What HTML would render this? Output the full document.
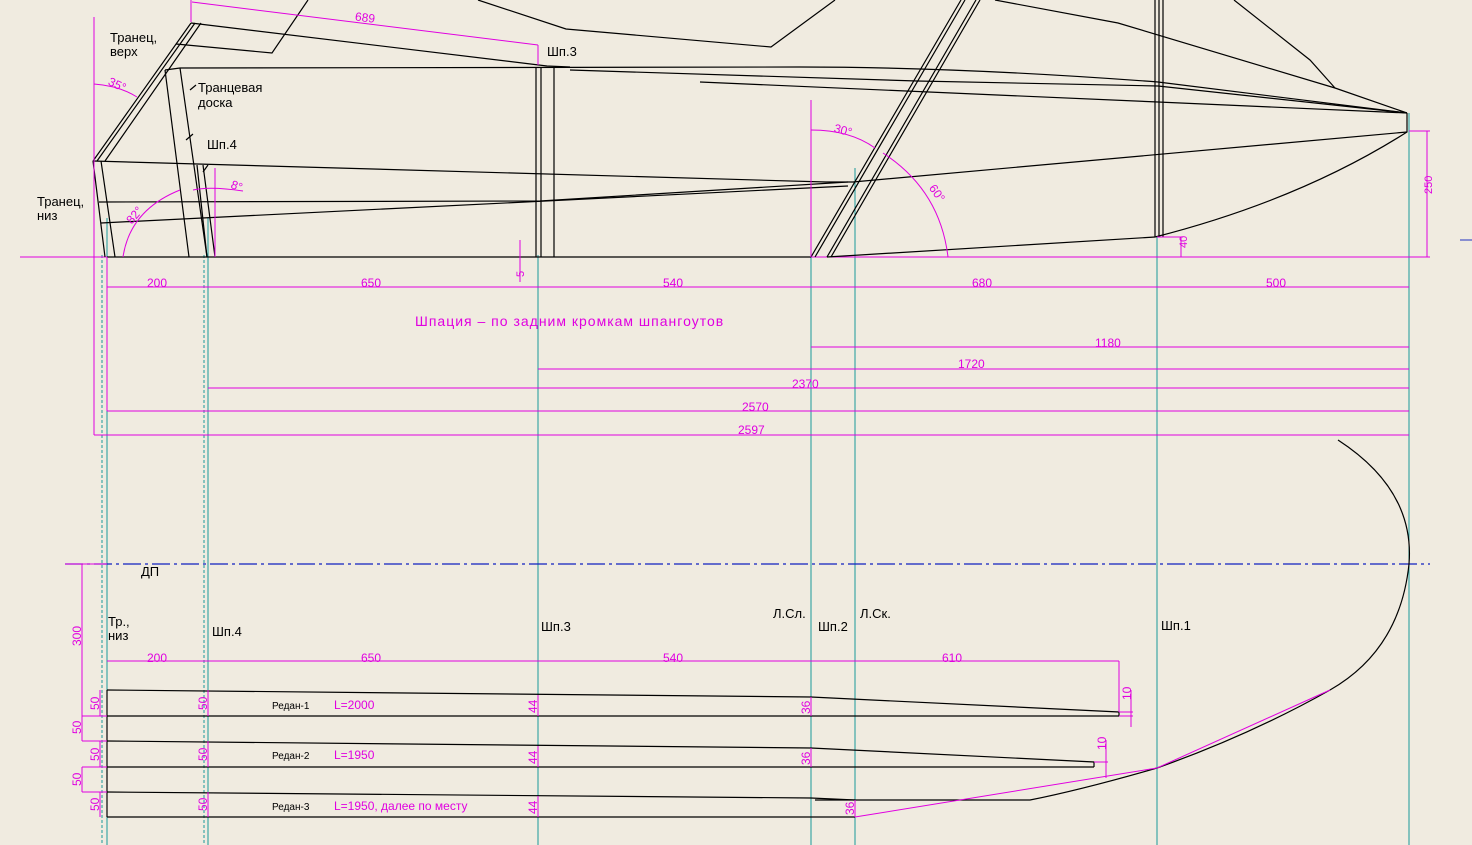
<!DOCTYPE html>
<html><head><meta charset="utf-8"><style>
html,body{margin:0;padding:0;background:#f0ebe0;}
svg{display:block;font-family:"Liberation Sans","DejaVu Sans",sans-serif;}
.k{stroke:#000;stroke-width:1.2;fill:none}
.m{stroke:#e000e0;stroke-width:1;fill:none}
.c{stroke:#1a9a9a;stroke-width:1;fill:none}
.cd{stroke:#1a9a9a;stroke-width:1;fill:none;stroke-dasharray:3,2}
.mt{fill:#e000e0;font-size:12px}
.bt{fill:#000;font-size:13px}
.st{fill:#000;font-size:10px}
</style></head><body>
<svg width="1472" height="845" viewBox="0 0 1472 845" xmlns="http://www.w3.org/2000/svg">
<rect width="1472" height="845" fill="#f0ebe0"/>
<!-- cyan stations -->
<g>
<line class="cd" x1="102" y1="255" x2="102" y2="845"/>
<line class="c" x1="107" y1="218" x2="107" y2="845"/>
<line class="cd" x1="204" y1="255" x2="204" y2="845"/>
<line class="c" x1="208" y1="218" x2="208" y2="845"/>
<line class="c" x1="538" y1="255" x2="538" y2="845"/>
<line class="c" x1="811" y1="255" x2="811" y2="845"/>
<line class="c" x1="855" y1="168" x2="855" y2="845"/>
<line class="c" x1="1157" y1="237" x2="1157" y2="845"/>
<line class="c" x1="1409" y1="113" x2="1409" y2="845"/>
</g>
<!-- baseline -->
<line class="m" x1="20" y1="257" x2="1430" y2="257"/>
<line stroke="#2030c0" x1="1460" y1="240" x2="1472" y2="240"/>
<!-- side view black -->
<g class="k">
<path d="M107,257 L811,257"/>
<path d="M827,257 L1155,237"/>
<path d="M1155,237 Q1300,200 1407,132 L1407,113"/>
<!-- transom -->
<path d="M93,161 L105,257 M101,161 L115,257"/>
<path d="M93,161 L191,23 M97,161 L195,23 M105,161 L201,23"/>
<path d="M191,23 L547,66 L570,67"/>
<path d="M176,44 L272,53 L308,0"/>
<path d="M165,70 L180,68 L800,67 Q960,67 1158,82 L1407,113"/>
<path d="M570,70 L917,81 L1158,86 L1407,113"/>
<path d="M700,82 L1158,102 L1407,113"/>
<path d="M93,161 L826,182 L853,182 L1407,132"/>
<path d="M99,202 L540,201 L848,182"/>
<path d="M101,223 L848,186"/>
<!-- transom board -->
<path d="M165,70 L189,257 M180,68 L207,257"/>
<path d="M197,165 L207,257 M203,165 L215,257"/>
<path d="M208,165 L203,172"/>
<!-- Shp3 -->
<path d="M536,67 L536,257 M541,67 L541,257 M554,67 L554,257"/>
<!-- Shp1 -->
<path d="M1155,0 L1155,237 M1159,0 L1159,237 M1163,0 L1163,237"/>
<!-- stem -->
<path d="M811,257 L961,0 M815,257 L965,0 M827,257 L976,0 M831,257 L980,0"/>
<!-- upper -->
<path d="M995,0 L1118,23 L1335,88 L1407,113"/>
<path d="M1234,0 L1310,60 L1335,88"/>
<path d="M478,0 L566,29 L771,47 L835,0"/>
<path d="M190,90 L196,85 M193,134 L186,140"/>
</g>
<!-- side dims -->
<g class="m">
<line x1="94" y1="17" x2="94" y2="435"/>
<line x1="107" y1="257" x2="107" y2="411"/>
<line x1="191" y1="0" x2="191" y2="22"/>
<line x1="192" y1="2" x2="538" y2="45"/>
<line x1="538" y1="45" x2="538" y2="65"/>
<path d="M94,84 Q120,86 137,97"/>
<path d="M123,257 Q130,210 180,190"/>
<path d="M193,190 Q210,186 243,191"/>
<line x1="215" y1="168" x2="215" y2="257"/>
<line x1="811" y1="100" x2="811" y2="257"/>
<path d="M811,130 Q850,130 875,148"/>
<path d="M883,153 Q940,190 948,257"/>
<line x1="520" y1="240" x2="520" y2="282"/>
<line x1="1181" y1="237" x2="1181" y2="257"/><line x1="1157" y1="237" x2="1183" y2="237"/>
<line x1="1409" y1="131" x2="1430" y2="131"/><line x1="1427" y1="131" x2="1427" y2="257"/>
<line x1="107" y1="287" x2="1409" y2="287"/>
<line x1="811" y1="347" x2="1409" y2="347"/>
<line x1="538" y1="369" x2="1409" y2="369"/>
<line x1="208" y1="388" x2="1409" y2="388"/>
<line x1="107" y1="411" x2="1409" y2="411"/>
<line x1="94" y1="435" x2="1409" y2="435"/>
</g>
<g class="mt">
<text x="355" y="22" transform="rotate(7 368 18)">689</text>
<text x="108" y="89" transform="rotate(25 118 85)">35°</text>
<text x="124" y="220" transform="rotate(-50 133 214)">82°</text>
<text x="231" y="190" transform="rotate(20 237 186)">8°</text>
<text x="834" y="134" transform="rotate(15 842 130)">30°</text>
<text x="928" y="195" transform="rotate(55 935 192)">60°</text>
<text x="520" y="281" transform="rotate(-90 520 277)" font-size="11">5</text>
<text x="1182" y="253" transform="rotate(-90 1182 248)" font-size="11">40</text>
<text x="1424" y="202" transform="rotate(-90 1424 194)" font-size="11">250</text>
<text x="147" y="287">200</text>
<text x="361" y="287">650</text>
<text x="663" y="287">540</text>
<text x="972" y="287">680</text>
<text x="1266" y="287">500</text>
<text x="1095" y="347">1180</text>
<text x="958" y="368">1720</text>
<text x="792" y="388">2370</text>
<text x="742" y="411">2570</text>
<text x="738" y="434">2597</text>
<text x="415" y="326" font-size="14" letter-spacing="1">Шпация – по задним кромкам шпангоутов</text>
</g>
<g class="bt">
<text x="110" y="42">Транец,</text><text x="110" y="56">верх</text>
<text x="198" y="92">Транцевая</text><text x="198" y="107">доска</text>
<text x="207" y="149">Шп.4</text>
<text x="547" y="56">Шп.3</text>
<text x="37" y="206">Транец,</text><text x="37" y="220">низ</text>
</g>
<!-- plan view -->
<line stroke="#1020c0" stroke-width="1.2" stroke-dasharray="18,4,3,4" x1="65" y1="564" x2="1430" y2="564"/>
<g class="k">
<path d="M1338,440 Q1415,490 1409,564 Q1400,650 1330,690 Q1250,735 1157,768"/>
<path d="M1157,768 L1150,770 Q1080,790 1030,800 L815,800"/>
<path d="M107,690 L811,697 L1119,712 L1119,716 M107,716 L1119,716"/>
<path d="M107,741 L811,748 L1094,762 L1094,767 M107,767 L1094,767"/>
<path d="M107,792 L811,798 L855,800 M107,817 L855,817"/>
<path d="M107,690 L107,817"/>
</g>
<g class="m">
<line x1="855" y1="817" x2="1157" y2="768"/>
<line x1="1157" y1="768" x2="1330" y2="690"/>
<line x1="107" y1="661" x2="1119" y2="661"/>
<line x1="1119" y1="661" x2="1119" y2="712"/>
<line x1="1131" y1="690" x2="1131" y2="727"/><line x1="1119" y1="712" x2="1133" y2="712"/><line x1="1119" y1="716" x2="1133" y2="716"/>
<line x1="1106" y1="740" x2="1106" y2="778"/><line x1="1094" y1="762" x2="1108" y2="762"/>
<line x1="82" y1="564" x2="82" y2="741"/><line x1="65" y1="564" x2="107" y2="564"/>
<line x1="82" y1="716" x2="107" y2="716"/><line x1="82" y1="741" x2="107" y2="741"/>
<line x1="82" y1="767" x2="107" y2="767"/><line x1="82" y1="792" x2="107" y2="792"/>
<line x1="82" y1="767" x2="82" y2="792"/>
<line x1="100" y1="690" x2="100" y2="716"/><line x1="100" y1="741" x2="100" y2="767"/><line x1="100" y1="792" x2="100" y2="817"/>
<line x1="208" y1="690" x2="208" y2="716"/><line x1="208" y1="741" x2="208" y2="767"/><line x1="208" y1="792" x2="208" y2="817"/>
<line x1="538" y1="695" x2="538" y2="716"/><line x1="538" y1="746" x2="538" y2="767"/><line x1="538" y1="796" x2="538" y2="817"/>
<line x1="811" y1="697" x2="811" y2="716"/><line x1="811" y1="748" x2="811" y2="767"/><line x1="855" y1="800" x2="855" y2="817"/>
</g>
<g class="mt" font-size="10">
<text x="147" y="662" font-size="12">200</text>
<text x="361" y="662" font-size="12">650</text>
<text x="663" y="662" font-size="12">540</text>
<text x="942" y="662" font-size="12">610</text>
<text transform="translate(81,646) rotate(-90)">300</text>
<text transform="translate(99,710) rotate(-90)">50</text>
<text transform="translate(81,734) rotate(-90)">50</text>
<text transform="translate(99,761) rotate(-90)">50</text>
<text transform="translate(81,786) rotate(-90)">50</text>
<text transform="translate(99,811) rotate(-90)">50</text>
<text transform="translate(207,710) rotate(-90)">50</text>
<text transform="translate(207,761) rotate(-90)">50</text>
<text transform="translate(207,811) rotate(-90)">50</text>
<text transform="translate(537,713) rotate(-90)">44</text>
<text transform="translate(537,764) rotate(-90)">44</text>
<text transform="translate(537,814) rotate(-90)">44</text>
<text transform="translate(810,714) rotate(-90)">36</text>
<text transform="translate(810,765) rotate(-90)">36</text>
<text transform="translate(854,815) rotate(-90)">36</text>
<text transform="translate(1131,700) rotate(-90)">10</text>
<text transform="translate(1106,750) rotate(-90)">10</text>
<text x="334" y="709">L=2000</text>
<text x="334" y="759">L=1950</text>
<text x="334" y="810">L=1950, далее по месту</text>
</g>
<g class="st">
<text x="272" y="709">Редан-1</text>
<text x="272" y="759">Редан-2</text>
<text x="272" y="810">Редан-3</text>
</g>
<g class="bt" font-size="12">
<text x="141" y="576" font-size="13">ДП</text>
<text x="108" y="626">Тр.,</text><text x="108" y="640">низ</text>
<text x="212" y="636">Шп.4</text>
<text x="541" y="631">Шп.3</text>
<text x="773" y="618">Л.Сл.</text>
<text x="818" y="631">Шп.2</text>
<text x="860" y="618">Л.Ск.</text>
<text x="1161" y="630">Шп.1</text>
</g>
</svg>
</body></html>
